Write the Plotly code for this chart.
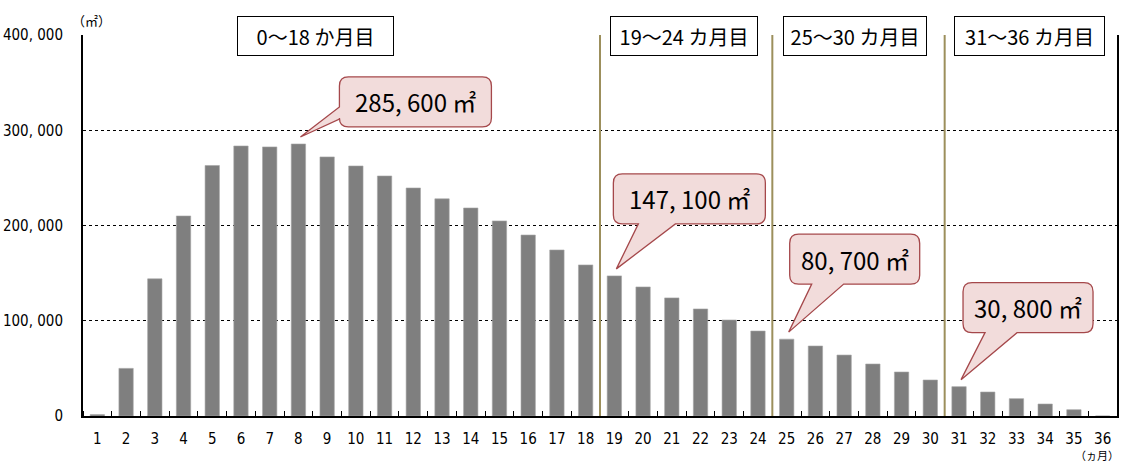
import plotly.graph_objects as go

# ---------------- data ----------------
months = list(range(1, 37))
area = [1500, 50000, 144000, 210000, 263000, 283500, 282500, 285600, 272000,
        262500, 252000, 239400, 228000, 218400, 204800, 190000, 174300, 158600,
        147100, 135500, 124000, 112400, 100800, 89200, 80700, 73500, 64000,
        54600, 46200, 37800, 30800, 25200, 18200, 12600, 6600, 0]
y_ticks = [0, 100000, 200000, 300000, 400000]
y_tick_labels = ["0", "100, 000", "200, 000", "300, 000", "400, 000"]
x_tick_labels = [str(m) for m in months]
period_labels = ["0〜18 か月目", "19〜24 カ月目", "25〜30 カ月目", "31〜36 カ月目"]
period_bounds = [18.5, 24.5, 30.5]
callout_months = [8, 19, 25, 31]
callout_labels = ["285, 600 ㎡", "147, 100 ㎡", "80, 700 ㎡", "30, 800 ㎡"]

# ---------------- geometry ----------------
W, H = 1124, 464
ML, MR, MT, MB = 83, 7, 35, 48
PW, PH = W - ML - MR, H - MT - MB
XR = [0.5, 36.5]
YR = [0, 400000]

FONT = "DejaVu Sans Condensed, Liberation Sans Narrow, Noto Sans CJK JP, sans-serif"
CJK = "Noto Sans CJK JP, sans-serif"


def dx(p):
    return p / PW * (XR[1] - XR[0])


def dy(p):
    return p / PH * (YR[1] - YR[0])


fig = go.Figure()
fig.add_trace(go.Bar(
    x=months, y=area, marker=dict(color="#7f7f7f", line=dict(color="#a6a6a6", width=0.6)),
    width=0.5, hoverinfo="x+y", showlegend=False,
))

shapes = []
# period separators
for b in period_bounds:
    shapes.append(dict(type="line", xref="x", yref="y", x0=b, x1=b, y0=0, y1=YR[1],
                       line=dict(color="#9c8f5c", width=2), layer="above"))

# callouts: box offsets (px) relative to tip: left, right, top, bottom, wedge type, wedge a, wedge b
callout_geo = [
    (39, 191, -60, -10, "left", -30, -18),
    (-3, 149, -95, -45, "bottom", 22, 59),
    (1, 131, -98, -48, "bottom", 23, 55),
    (2, 132, -97, -47, "bottom", 24, 56),
]
annotations = []
r = 9
for m, lab, g in zip(callout_months, callout_labels, callout_geo):
    v = area[months.index(m)]
    tx = m + dx(2)
    ty = v + dy(7)
    L, R, T, B, kind, wa, wb = g

    def P(ox, oy):
        return f"{tx + dx(ox):.5f},{ty - dy(oy):.3f}"

    path = f"M {P(L + r, T)} L {P(R - r, T)} Q {P(R, T)} {P(R, T + r)} "
    path += f"L {P(R, B - r)} Q {P(R, B)} {P(R - r, B)} "
    if kind == "bottom":
        path += f"L {P(wb, B)} L {P(0, 0)} L {P(wa, B)} "
        path += f"L {P(L + r, B)} Q {P(L, B)} {P(L, B - r)} L {P(L, T + r)} "
    else:
        path += f"L {P(L + r, B)} Q {P(L, B)} {P(L, B - r)} "
        path += f"L {P(L, wb)} L {P(0, 0)} L {P(L, wa)} L {P(L, T + r)} "
    path += f"Q {P(L, T)} {P(L + r, T)} Z"
    shapes.append(dict(type="path", xref="x", yref="y", path=path,
                       fillcolor="#f2dcdb", line=dict(color="#a5484b", width=1.3), layer="above"))
    annotations.append(dict(xref="x", yref="y", x=tx + dx((L + R) / 2), y=ty - dy((T + B) / 2),
                            text=lab, showarrow=False, xanchor="center", yanchor="middle",
                            font=dict(family=CJK, size=24, color="black")))

# period boxes (paper x positions)
box_cx = [0.2249, 0.5812, 0.7466, 0.9154]
box_w = [155, 146, 142, 149]
for lab, cx, w in zip(period_labels, box_cx, box_w):
    annotations.append(dict(xref="paper", yref="y", x=cx, y=YR[1] - dy(1), text=lab,
                            showarrow=False, xanchor="center", yanchor="middle",
                            width=w, height=38, borderpad=0, bordercolor="black", borderwidth=1,
                            bgcolor="white", font=dict(family=CJK, size=20, color="black")))

# unit labels
annotations.append(dict(xref="paper", yref="paper", x=0.008, y=1.0, yshift=3, text="（㎡）",
                        showarrow=False, xanchor="center", yanchor="bottom",
                        font=dict(family=CJK, size=13, color="black")))
annotations.append(dict(xref="paper", yref="paper", x=1.003, y=0, yshift=-48, text="（ヵ月）",
                        showarrow=False, xanchor="right", yanchor="bottom", borderpad=0,
                        font=dict(family=CJK, size=11, color="black")))

fig.update_layout(
    width=W, height=H,
    margin=dict(l=ML, r=MR, t=MT, b=MB, pad=0, autoexpand=False),
    plot_bgcolor="white", paper_bgcolor="white",
    shapes=shapes, annotations=annotations,
    xaxis=dict(range=XR, tickmode="array", tickvals=months, ticktext=x_tick_labels,
               ticks="", showgrid=False, zeroline=False, automargin=False,
               showline=True, linecolor="black", linewidth=2,
               tickfont=dict(family=FONT, size=15, color="black"),
               ticklabelstandoff=8,
               minor=dict(tickmode="linear", tick0=0.5, dtick=1, ticks="inside",
                          ticklen=5, tickcolor="black", tickwidth=1, showgrid=False),
               fixedrange=True),
    yaxis=dict(range=YR, tickmode="array", tickvals=y_ticks, ticktext=y_tick_labels,
               ticks="", showgrid=True, gridcolor="black", gridwidth=1, griddash="3px,3px",
               zeroline=False, showline=True, linecolor="black", linewidth=2, mirror=True,
               automargin=False,
               tickfont=dict(family=FONT, size=15, color="black"),
               ticklabelstandoff=15, fixedrange=True),
)

fig.write_html("out.html", config={"displayModeBar": False},
               post_script="document.body.style.margin='0';document.body.style.padding='0';")
